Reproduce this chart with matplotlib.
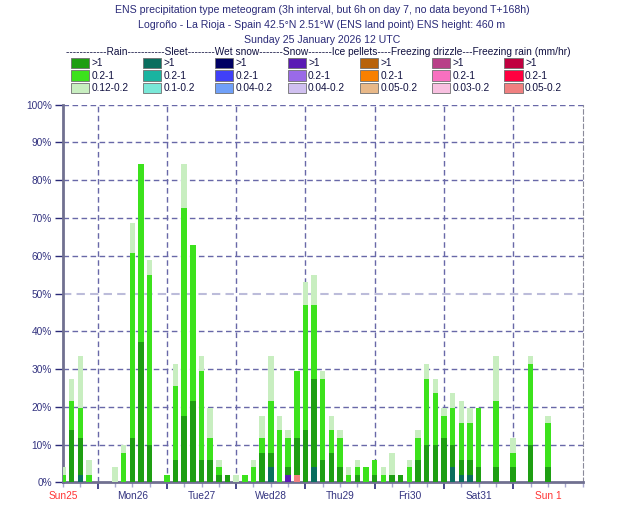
import numpy as np
import matplotlib
matplotlib.use("Agg")
import matplotlib.pyplot as plt
from matplotlib.patches import Rectangle

plt.rcParams["font.family"] = ["Liberation Sans", "DejaVu Sans"]

N_MEMBERS = 51

# forecast step (hours from Sun 25 12 UTC); 3h steps, then 6h on day 7
steps = list(range(0, 145, 3)) + [150, 156, 162, 168]

# number of ensemble members per category and step
sleet_hi = [0, 0, 1, 0, 0, 0, 0, 0, 0, 0, 0, 0, 0, 0, 0, 0, 0, 0, 0, 0, 0, 0, 0, 0,
            2, 0, 0, 0, 0, 2, 0, 0, 0, 0, 0, 0, 0, 0, 0, 0, 0, 0, 0, 0, 0, 2, 1, 1, 0,
            0, 0, 0, 0]
snow_hi = [0] * 26 + [1] + [0] * 26
frzrain_lo = [0] * 27 + [1] + [0] * 25
rain_hi = [0, 7, 5, 0, 0, 0, 0, 0, 6, 19, 5, 0, 0, 3, 9, 11, 3, 3, 1, 1, 0, 0, 0, 4,
           2, 0, 1, 5, 7, 12, 3, 4, 2, 0, 1, 0, 1, 0, 1, 1, 0, 3, 5, 5, 6, 3, 2, 2, 2,
           2, 2, 5, 2]
rain_mid = [1, 4, 4, 1, 0, 0, 0, 4, 25, 24, 23, 0, 1, 10, 28, 21, 12, 3, 1, 0, 0, 1, 2, 2,
            7, 7, 4, 9, 17, 10, 11, 3, 4, 1, 1, 2, 2, 1, 0, 0, 2, 3, 9, 7, 3, 5, 5, 5, 8,
            9, 2, 11, 6]
rain_lo = [1, 3, 7, 2, 0, 0, 2, 1, 4, 0, 2, 0, 0, 3, 6, 0, 2, 4, 1, 0, 1, 0, 1, 3,
           6, 2, 1, 0, 3, 4, 1, 2, 1, 1, 1, 0, 0, 1, 3, 0, 1, 1, 2, 2, 1, 2, 3, 2, 0,
           6, 2, 1, 1]

day_labels = ["Sun25", "Mon26", "Tue27", "Wed28", "Thu29", "Fri30", "Sat31", "Sun 1"]
day_label_colors = ["#ff3333", "#333380", "#333380", "#333380", "#333380", "#333380",
                    "#333380", "#ff3333"]

legend_types = ["Rain", "Sleet", "Wet snow", "Snow", "Ice pellets",
                "Freezing drizzle", "Freezing rain"]
legend_ranges = [
    [">1", "0.2-1", "0.12-0.2"],
    [">1", "0.2-1", "0.1-0.2"],
    [">1", "0.2-1", "0.04-0.2"],
    [">1", "0.2-1", "0.04-0.2"],
    [">1", "0.2-1", "0.05-0.2"],
    [">1", "0.2-1", "0.03-0.2"],
    [">1", "0.2-1", "0.05-0.2"],
]
legend_colors = [
    ["#1e9e12", "#3ce21c", "#c8eec0"],
    ["#0a6e5e", "#1ab4a0", "#7ae8d8"],
    ["#000064", "#4040f8", "#70a0f8"],
    ["#5a1ab4", "#9a6ae8", "#d0c0f0"],
    ["#b8620a", "#f88000", "#e8b888"],
    ["#b84088", "#f870c0", "#f8c0e0"],
    ["#c00040", "#ff0040", "#f08080"],
]

navy = "#2a2a78"
grid_col = "#6868a8"

W, H = 630, 525
fig = plt.figure(figsize=(W / 100, H / 100), dpi=100)

# titles
title_lines = [
    "ENS precipitation type meteogram (3h interval, but 6h on day 7, no data beyond T+168h)",
    "Logroño - La Rioja - Spain 42.5°N 2.51°W (ENS land point) ENS height: 460 m",
    "Sunday 25 January 2026 12 UTC",
]
for i, line in enumerate(title_lines):
    fig.text(322 / W, 1 - (10 + 15 * i) / H, line, ha="center", va="center",
             fontsize=7.6, color=navy)

# legend header and boxes
header = ("------------" + legend_types[0] + "-----------" + legend_types[1]
          + "--------" + legend_types[2] + "-------" + legend_types[3]
          + "-------" + legend_types[4] + "----" + legend_types[5]
          + "---" + legend_types[6] + " (mm/hr)")
fig.text(66 / W, 1 - 52 / H, header, ha="left", va="center", fontsize=7.3, color="#101040")
for c in range(7):
    x0 = 70.7 + 72.3 * c
    for r in range(3):
        y0 = 58 + 12.3 * r
        fig.patches.append(Rectangle((x0 / W, 1 - (y0 + 10.5) / H), 18 / W, 10.5 / H,
                                     transform=fig.transFigure, facecolor=legend_colors[c][r],
                                     edgecolor="#707070", linewidth=0.6))
        fig.text((x0 + 20.5) / W, 1 - (y0 + 5.5) / H, legend_ranges[c][r], ha="left",
                 va="center", fontsize=7.3, color="#101040")

ax = fig.add_axes([63 / W, (H - 482.3) / H, 519.5 / W, 377.6 / H])

t = np.array(steps)
to_pct = 100.0 / N_MEMBERS
bottom = np.zeros(len(t))
series = [
    (sleet_hi, legend_colors[1][0]),
    (snow_hi, legend_colors[3][0]),
    (frzrain_lo, legend_colors[6][2]),
    (rain_hi, legend_colors[0][0]),
    (rain_mid, legend_colors[0][1]),
    (rain_lo, legend_colors[0][2]),
]
for vals, col in series:
    v = np.array(vals) * to_pct
    ax.bar(t, v, width=1.9, bottom=bottom, color=col, linewidth=0, zorder=3)
    bottom += v

ax.set_xlim(0, 180)
ax.set_ylim(0, 100)

# grid
for y in range(10, 101, 10):
    if y == 50:
        ax.axhline(y, color="#bcbcda", lw=1.5, ls=(0, (4, 2.5)), zorder=1)
    else:
        ax.axhline(y, color=grid_col, lw=1, ls=(0, (4, 2.5)), zorder=1)
midnights = list(range(12, 180, 24))
for x in midnights:
    ax.axvline(x, color=grid_col, lw=1, ls=(0, (4, 2.5)), zorder=1)

ax.spines["top"].set_visible(False)
ax.spines["right"].set_linestyle((0, (4, 2.5)))
ax.spines["right"].set_color("#8a8a9a")
ax.spines["left"].set_color("#707090")
ax.spines["left"].set_linewidth(2)
ax.spines["bottom"].set_color("#707090")
ax.spines["bottom"].set_linewidth(2)

ax.set_yticks(range(0, 101, 10))
ax.set_yticklabels([f"{v}%" for v in range(0, 101, 10)])
ax.tick_params(axis="y", direction="out", length=6, width=1, color=navy,
               labelcolor="#333380", labelsize=7.3, pad=2)

ax.set_xticks(midnights)
ax.set_xticklabels([])
ax.set_xticks(range(0, 181, 6), minor=True)
ax.tick_params(axis="x", which="major", direction="out", length=5, width=1.2, color=navy)
ax.tick_params(axis="x", which="minor", direction="out", length=3.5, width=1, color="#a8a8d0")

for i, (lab, col) in enumerate(zip(day_labels, day_label_colors)):
    ax.text(i * 24, -0.037, lab, transform=ax.get_xaxis_transform(), ha="center",
            va="center", fontsize=7.3, color=col)

fig.savefig("out.png", dpi=100)
